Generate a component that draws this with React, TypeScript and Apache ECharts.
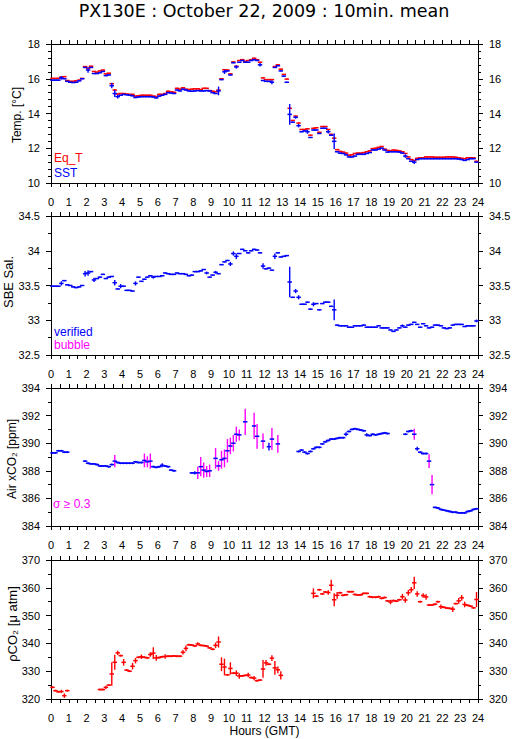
import React, { useEffect, useRef } from "react";
import * as echarts from "echarts";

// ---- data: 10-minute bins (index i covers hours i/6 .. (i+1)/6) ----
const eqT: (number | null)[] = [
  16.02, 16.02, 16.02, 16.1, 16.12, 15.9,
  15.85, 15.85, 15.88, 15.92, 16.02, 16.7,
  16.6, 16.72, 16.42, 16.38, 16.45, 16.5,
  16.28, 16.32, 15.72, 15.35, 15.12, 15.15,
  15.15, 15.12, 15.1, 15.1, 15.0, 15.02,
  15.05, 15.05, 15.05, 15.05, 15.0, 14.98,
  15.1, 15.1, 15.15, 15.28, 15.25, 15.22,
  15.45, 15.4, 15.48, 15.4, 15.38, 15.4,
  15.42, 15.42, 15.38, 15.45, 15.45, 15.32,
  15.28, 15.25, 15.35, 16.0, 16.52, 16.5,
  16.28, 16.97, 16.72, 17.05, 17.1, 17.0,
  17.05, 17.1, 17.18, 17.1, 16.95, 16.05,
  15.95, 15.95, 15.95, 16.7, 16.8, 16.55,
  16.25, 15.98, 14.3, 13.6, 13.85, 13.45,
  13.08, 13.08, 13.12, 12.75, 13.15, 13.18,
  12.92, 13.25, 13.25, 13.08, 12.8, 12.58,
  11.92, 11.82, 11.78, 11.72, 11.6, 11.62,
  11.7, 11.72, 11.72, 11.75, 11.8, 11.85,
  11.98, 12.0, 12.05, 12.1, 11.95, 11.88,
  11.85, 11.9, 11.88, 11.85, 11.8, 11.7,
  11.5, 11.35, 11.3, 11.42, 11.45, 11.45,
  11.5, 11.5, 11.5, 11.48, 11.48, 11.48,
  11.48, 11.5, 11.5, 11.5, 11.48, 11.45,
  11.42, 11.4, 11.45, 11.45, 11.45, 11.25,
];
const eqTSd: [number, number][] = [[80, 0.06]];

const sst: (number | null)[] = [
  15.92, 15.92, 15.92, 16.05, 16.0, 15.85,
  15.8, 15.78, 15.8, 15.88, 16.0, 16.65,
  16.5, 16.65, 16.3, 16.3, 16.35, 16.42,
  16.18, 16.22, 15.6, 15.15, 14.97, 15.05,
  15.1, 15.08, 15.05, 15.02, 14.92, 14.95,
  14.97, 14.97, 14.97, 14.97, 14.95, 14.9,
  15.0, 15.05, 15.1, 15.2, 15.18, 15.15,
  15.35, 15.3, 15.4, 15.35, 15.3, 15.28,
  15.3, 15.32, 15.3, 15.3, 15.32, 15.3,
  15.2, 15.15, 15.3, 15.95, 16.4, 16.45,
  16.22, 16.92, 16.68, 16.95, 17.05, 16.95,
  16.95, 17.05, 17.1, 17.05, 16.8, 15.9,
  15.85, 15.85, 15.8, 16.65, 16.75, 16.45,
  16.15, 15.8, 13.95, 13.5, 13.78, 13.3,
  12.95, 13.0, 12.95, 12.62, 13.05, 13.05,
  12.85, 13.15, 13.15, 12.95, 12.75, 12.4,
  11.8, 11.72, 11.7, 11.62, 11.5, 11.5,
  11.55, 11.65, 11.65, 11.65, 11.7, 11.75,
  11.9, 11.9, 11.95, 12.0, 11.9, 11.78,
  11.8, 11.8, 11.8, 11.78, 11.72, 11.55,
  11.4, 11.25, 11.2, 11.35, 11.4, 11.4,
  11.4, 11.4, 11.4, 11.4, 11.4, 11.4,
  11.4, 11.4, 11.4, 11.4, 11.4, 11.38,
  11.35, 11.3, 11.35, 11.4, 11.4, 11.2,
];
const sstSd: [number, number][] = [
  [3, 0.1], [12, 0.15], [20, 0.15], [21, 0.2], [22, 0.1], [56, 0.25], [58, 0.12],
  [62, 0.1], [70, 0.1], [74, 0.12], [80, 0.6], [82, 0.08], [83, 0.1], [86, 0.12],
  [93, 0.1], [95, 0.45], [119, 0.1], [122, 0.1],
];

const sal: (number | null)[] = [
  33.49, 33.49, 33.49, 33.53, 33.57, 33.51,
  33.5, 33.48, 33.47, 33.48, 33.5, 33.67,
  33.68, 33.7, 33.58, 33.6, 33.62, 33.66,
  33.6, 33.62, 33.63, 33.54, 33.45, 33.49,
  33.49, 33.43, 33.43, 33.42, 33.53, 33.62,
  33.56, 33.59, 33.62, 33.64, 33.62, 33.63,
  33.63, 33.64, 33.68, 33.67, 33.66, 33.66,
  33.68, 33.67, 33.67, 33.66, 33.64, 33.65,
  33.7, 33.7, 33.71, 33.73, 33.68, 33.62,
  33.65, 33.69, 33.67, 33.8, 33.84, 33.86,
  33.81, 33.96, 33.92, 33.96, 34.02, 34.0,
  33.97, 34.0, 34.02, 34.01, 33.97, 33.78,
  33.74, 33.75, 33.72, 33.92, 33.97, 33.91,
  33.92, 33.93, 33.55, 33.33, 33.42, 33.33,
  33.23, 33.23, 33.26, 33.16, 33.23, 33.24,
  33.15, 33.24, 33.26, 33.26, 33.2, 33.15,
  32.93, 32.92, 32.92, 32.92, 32.9, 32.9,
  32.92, 32.92, 32.92, 32.93, 32.9, 32.9,
  32.9, 32.9, 32.92, 32.89, 32.89, 32.89,
  32.86, 32.84, 32.86, 32.89, 32.92, 32.9,
  32.93, 32.94, 32.97, 32.94, 32.9, 32.95,
  32.92, 32.89, 32.9, 32.93, 32.93, 32.92,
  32.89, 32.88, 32.89, 32.93, 32.94, 32.94,
  32.94, 32.91, 32.92, 32.92, 32.92, 32.99,
];
const salSd: [number, number][] = [
  [3, 0.03], [11, 0.04], [12, 0.04], [14, 0.03], [21, 0.04], [23, 0.03], [28, 0.03],
  [34, 0.02], [52, 0.02], [55, 0.02], [60, 0.03], [61, 0.03], [62, 0.04], [71, 0.04],
  [75, 0.04], [80, 0.22], [82, 0.03], [83, 0.03], [88, 0.03], [95, 0.15], [118, 0.02],
  [143, 0.02],
];

const airXco2: (number | null)[] = [
  389.3, 389.3, 389.45, 389.45, 389.35, 389.35,
  null, null, null, null, null, 388.7,
  388.55, 388.5, 388.5, 388.45, 388.35, 388.35,
  388.35, 388.3, 388.45, 388.7, 388.6, 388.55,
  388.55, 388.55, 388.55, 388.55, 388.65, 388.6,
  388.6, 388.75, 388.65, 388.7, 388.3, 388.25,
  388.3, 388.4, 388.35, 388.3, 388.05, 388.0,
  null, null, null, null, null, 387.85,
  387.85, 387.85, 388.3, 388.05, 387.95, 388.0,
  null, 388.9, 388.35, 388.8, 388.9, 389.45,
  389.8, 390.0, 390.65, 390.6, null, 391.55,
  null, null, 391.25, 390.5, null, 390.15,
  null, 389.75, 390.3, null, 389.95, null,
  null, null, null, null, null, 389.4,
  389.5, 389.35, 389.25, 389.4, 389.6, 389.7,
  389.7, 389.95, 390.1, 390.2, 390.3, 390.3,
  390.35, 390.4, 390.4, 390.65, 390.85, 391.0,
  391.05, 391.0, 390.95, 390.9, 390.6, 390.55,
  390.65, 390.6, 390.65, 390.7, 390.75, 390.7,
  null, null, null, null, null, 390.65,
  390.85, 390.9, 390.65, 389.6, 389.35, 389.25,
  389.25, 388.7, 387.0, 385.35, 385.3, 385.2,
  385.15, 385.1, 385.05, 385.0, 385.0, 384.95,
  384.95, 384.95, 385.05, 385.1, 385.2, 385.25,
];
const airSd: [number, number][] = [
  [21, 0.45], [31, 0.5], [32, 0.4], [33, 0.55], [37, 0.15], [48, 0.12], [49, 0.45],
  [50, 0.7], [51, 0.55], [52, 0.4], [53, 0.45], [55, 0.75], [56, 0.35], [57, 0.65],
  [58, 0.65], [59, 0.85], [60, 0.6], [61, 0.6], [62, 0.55], [63, 0.4], [65, 0.95],
  [68, 0.95], [69, 0.9], [71, 0.55], [73, 0.28], [74, 0.8], [76, 0.65], [99, 0.15],
  [106, 0.12], [122, 0.4], [123, 0.15], [127, 0.5], [128, 0.7],
];
const SIGMA_FLAG = 0.3;

const pco2: (number | null)[] = [
  324.2, 323.0, 322.6, 322.7, 321.2, 323.0,
  null, null, null, null, null, null,
  null, null, null, null, 323.4, 323.4,
  324.2, 325.0, 329.0, 333.2, 336.6, 335.6,
  333.2, 330.4, 330.0, 331.8, 333.8, 335.0,
  335.2, 335.0, 334.8, 336.0, 336.5, 334.8,
  334.9, 335.2, 335.3, 335.4, 335.4, 335.5,
  335.4, 335.4, 336.8, 338.2, 339.5, 339.4,
  339.1, 339.8, 339.3, 339.2, 339.0, 338.4,
  337.9, 339.3, 340.5, 332.5, 331.5, 328.7,
  331.0, 329.3, 329.3, 328.3, 328.3, 328.5,
  328.6, 327.7, 327.5, 326.6, 326.8, 330.8,
  333.0, 332.5, 334.7, 331.2, 330.5, 328.5,
  null, null, null, null, null, null,
  null, null, null, null, 358.0, 357.0,
  359.3, 357.8, 358.5, 358.3, 360.9, 355.7,
  357.3, 358.2, 357.3, 357.5, 358.6, 358.6,
  357.6, 357.4, 357.5, 358.0, 358.0, 356.8,
  356.6, 356.6, 356.8, 356.2, 356.5, 355.3,
  354.9, 355.4, 355.2, 355.7, 356.8, 355.6,
  358.2, 359.3, 361.8, 357.8, 355.0, 357.2,
  356.7, 353.8, 353.8, 354.1, 355.0, 353.2,
  353.0, 352.7, 352.6, 352.3, 354.3, 355.3,
  356.4, 354.0, 353.7, 353.4, 352.8, 355.8,
];
const pco2Sd: [number, number][] = [
  [3, 0.6], [4, 0.8], [18, 0.6], [20, 4.2], [21, 2.7], [22, 0.8], [24, 1.2], [27, 1.2],
  [28, 1], [30, 0.8], [33, 0.8], [34, 2.1], [35, 1], [38, 0.8], [44, 0.8], [45, 1],
  [49, 0.6], [55, 1], [56, 2], [57, 2.5], [58, 3], [60, 2.2], [62, 1], [63, 1], [66, 0.8],
  [68, 0.8], [71, 3.2], [72, 1], [74, 1], [75, 2.5], [76, 1.2], [77, 1.5], [88, 1.8],
  [93, 0.8], [94, 2], [95, 2.3], [96, 1.2], [114, 0.8], [118, 1], [119, 1], [120, 1],
  [121, 1], [122, 2.2], [123, 1], [125, 0.8], [126, 1], [131, 0.8], [135, 1], [137, 1],
  [138, 1], [139, 1], [143, 2.7],
];

const BIN = 1 / 6;
const FONT = "'Liberation Sans', Arial, Helvetica, sans-serif";
const BLACK = "#000";
const RED = "#ff0000";
const BLUE = "#0000ff";
const MAGENTA = "#ff00ff";

function buildItems(values: (number | null)[], sdList: [number, number][], defSd: number) {
  const m = new Map<number, number>();
  sdList.forEach(([i, s]) => m.set(i, s));
  const out: number[][] = [];
  values.forEach((v, i) => {
    if (v == null) return;
    out.push([i * BIN, v, m.has(i) ? (m.get(i) as number) : defSd]);
  });
  return out;
}

function makeRender(color: string, flagColor?: string, flagAt?: number) {
  return (_params: any, api: any) => {
    const t = api.value(0);
    const v = api.value(1);
    const sd = api.value(2);
    const p0 = api.coord([t, v]);
    const p1 = api.coord([t + BIN, v]);
    const xc = (p0[0] + p1[0]) / 2;
    const yTop = api.coord([t, v + sd])[1];
    const yBot = api.coord([t, v - sd])[1];
    const vColor = flagColor && flagAt != null && sd >= flagAt ? flagColor : color;
    return {
      type: "group",
      children: [
        { type: "line", shape: { x1: xc, y1: yTop, x2: xc, y2: yBot }, style: { stroke: vColor, lineWidth: 1.4 } },
        {
          type: "line", shape: { x1: p0[0], y1: p0[1], x2: p1[0], y2: p1[1] },
          style: { stroke: color, lineWidth: 1.5, lineCap: "square" },
        },
      ],
    };
  };
}

function xAxisPair(gi: number) {
  const common: any = {
    type: "value", gridIndex: gi, min: 0, max: 24, interval: 1,
    axisLine: { show: true, onZero: false, lineStyle: { color: BLACK, width: 1 } },
    axisTick: { show: true, inside: false, length: 4, lineStyle: { color: BLACK } },
    minorTick: { show: true, splitNumber: 2, length: 4, lineStyle: { color: BLACK } },
    splitLine: { show: false }, minorSplitLine: { show: false },
  };
  return [
    { ...common, position: "bottom", axisLabel: { show: true, margin: 13, color: BLACK, fontSize: 11, fontFamily: FONT } },
    { ...common, position: "top", axisLabel: { show: false } },
  ];
}

function yAxisPair(gi: number, min: number, max: number, interval: number, minorSplit: number) {
  const common: any = {
    type: "value", gridIndex: gi, min, max, interval,
    axisLine: { show: true, onZero: false, lineStyle: { color: BLACK, width: 1 } },
    axisTick: { show: true, inside: false, length: 5, lineStyle: { color: BLACK } },
    minorTick: { show: true, splitNumber: minorSplit, length: 3, lineStyle: { color: BLACK } },
    splitLine: { show: false }, minorSplitLine: { show: false },
  };
  return [
    { ...common, position: "left", axisLabel: { show: true, margin: 11, color: BLACK, fontSize: 11, fontFamily: FONT } },
    { ...common, position: "right", axisLabel: { show: true, margin: 11, color: BLACK, fontSize: 11, fontFamily: FONT } },
  ];
}

function legendText(x: number, y: number, text: string, fill: string) {
  return {
    type: "text", x, y,
    style: { text, fill, font: `12px ${FONT}`, textAlign: "left", textVerticalAlign: "middle" },
  };
}

function axisTitle(x: number, y: number, text: string, size: number) {
  return {
    type: "text", x, y, rotation: Math.PI / 2,
    style: { text, fill: BLACK, font: `${size}px ${FONT}`, textAlign: "center", textVerticalAlign: "middle" },
  };
}

export default function App() {
  const ref = useRef<HTMLDivElement>(null);
  useEffect(() => {
    if (!ref.current) return;
    const chart = echarts.init(ref.current, undefined, { renderer: "svg" });
    const option: any = {
      animation: false,
      backgroundColor: "#fff",
      grid: [
        { left: 51, right: 37, top: 44, height: 139 },
        { left: 51, right: 37, top: 216, height: 139 },
        { left: 51, right: 37, top: 388, height: 138 },
        { left: 51, right: 37, top: 560, height: 139 },
      ],
      xAxis: [...xAxisPair(0), ...xAxisPair(1), ...xAxisPair(2), ...xAxisPair(3)],
      yAxis: [
        ...yAxisPair(0, 10, 18, 2, 5),
        ...yAxisPair(1, 32.5, 34.5, 0.5, 2),
        ...yAxisPair(2, 384, 394, 2, 2),
        ...yAxisPair(3, 320, 370, 10, 2),
      ],
      series: [
        { type: "custom", name: "Eq_T", xAxisIndex: 0, yAxisIndex: 0, encode: { x: 0, y: 1 },
          data: buildItems(eqT, eqTSd, 0.03), renderItem: makeRender(RED) },
        { type: "custom", name: "SST", xAxisIndex: 0, yAxisIndex: 0, encode: { x: 0, y: 1 },
          data: buildItems(sst, sstSd, 0.03), renderItem: makeRender(BLUE) },
        { type: "custom", name: "verified", xAxisIndex: 2, yAxisIndex: 2, encode: { x: 0, y: 1 },
          data: buildItems(sal, salSd, 0.008), renderItem: makeRender(BLUE) },
        { type: "custom", name: "Air xCO2", xAxisIndex: 4, yAxisIndex: 4, encode: { x: 0, y: 1 },
          data: buildItems(airXco2, airSd, 0.07), renderItem: makeRender(BLUE, MAGENTA, SIGMA_FLAG) },
        { type: "custom", name: "pCO2", xAxisIndex: 6, yAxisIndex: 6, encode: { x: 0, y: 1 },
          data: buildItems(pco2, pco2Sd, 0.35), renderItem: makeRender(RED) },
      ],
      graphic: [
        {
          type: "text", x: 264, y: 11,
          style: {
            text: "PX130E : October 22, 2009 : 10min. mean", fill: BLACK,
            font: "17.5px 'DejaVu Sans', sans-serif", textAlign: "center", textVerticalAlign: "middle",
          },
        },
        axisTitle(17, 115, "Temp. [°C]", 12),
        axisTitle(8, 282, "SBE Sal.", 13),
        axisTitle(11.5, 459, "Air xCO₂ [ppm]", 12),
        axisTitle(12.5, 624, "ρCO₂ [μ atm]", 13),
        {
          type: "text", x: 264.5, y: 731,
          style: { text: "Hours (GMT)", fill: BLACK, font: `12px ${FONT}`, textAlign: "center", textVerticalAlign: "middle" },
        },
        legendText(54, 158, "Eq_T", RED),
        legendText(54, 173, "SST", BLUE),
        legendText(54, 332, "verified", BLUE),
        legendText(54, 345, "bubble", MAGENTA),
        legendText(53, 504, "σ ≥ 0.3", MAGENTA),
      ],
    };
    chart.setOption(option);
    return () => chart.dispose();
  }, []);
  return (
    <div
      ref={ref}
      style={{ position: "fixed", left: 0, top: 0, width: 515, height: 739, background: "#fff" }}
    />
  );
}
